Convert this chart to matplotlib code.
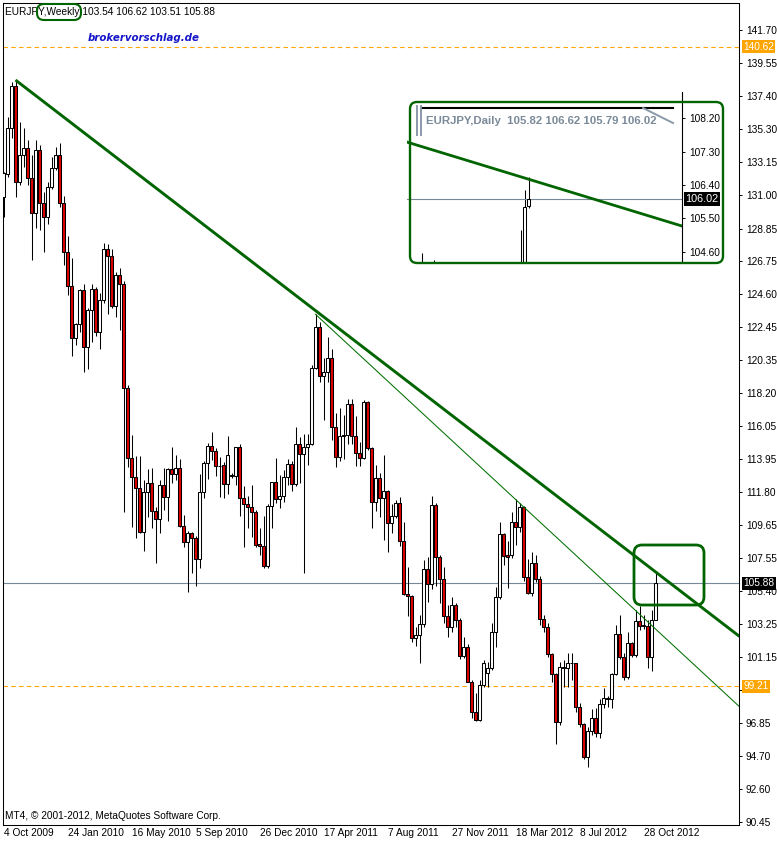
import numpy as np
import pandas as pd
import matplotlib
matplotlib.use("Agg")
import matplotlib.pyplot as plt
from matplotlib.patches import FancyBboxPatch
from matplotlib.lines import Line2D
from matplotlib.transforms import IdentityTransform

plt.rcParams['font.family'] = ['Liberation Sans', 'DejaVu Sans']

# ---------------- data (weekly EURJPY) ----------------
start_date = "2009-10-04"
opens = [130.91, 132.38, 135.34, 138.07, 131.88, 133.61, 134.04, 132.10, 129.88, 133.93,
         130.52, 129.58, 131.52, 132.75, 133.61, 130.52, 127.35, 125.15, 121.75, 122.65,
         124.87, 121.16, 123.58, 124.92, 122.18, 124.23, 127.50, 127.09, 123.86, 125.84,
         125.24, 118.55, 113.98, 112.79, 112.03, 109.23, 111.82, 112.36, 110.57, 110.03,
         112.25, 111.49, 113.26, 112.94, 113.33, 109.60, 108.58, 109.12, 108.80, 107.44,
         111.77, 113.65, 114.77, 114.47, 113.48, 113.52, 112.29, 112.85, 112.85, 114.69,
         111.39, 111.00, 110.80, 110.52, 108.41, 108.33, 107.03, 110.89, 112.42, 111.34,
         111.56, 112.74, 113.59, 112.29, 114.88, 114.23, 114.73, 114.90, 119.80, 122.45,
         119.30, 119.58, 120.45, 115.98, 114.08, 115.42, 115.48, 117.47, 115.42, 114.30,
         113.97, 117.60, 114.62, 111.13, 112.68, 111.39, 111.86, 109.77, 110.24, 111.11,
         108.65, 105.18, 105.07, 102.33, 102.55, 103.24, 106.80, 105.83, 110.96, 107.62,
         106.15, 103.80, 103.09, 104.49, 103.52, 101.21, 101.75, 99.53, 97.59, 97.05,
         99.31, 100.10, 100.39, 102.76, 104.98, 109.06, 107.72, 107.72, 109.88, 109.56,
         110.85, 106.28, 105.24, 107.18, 106.15, 103.56, 103.08, 101.31, 100.02, 96.94,
         100.45, 100.39, 100.71, 100.71, 97.86, 96.78, 94.63, 96.33, 97.15, 96.18,
         98.08, 98.40, 98.40, 100.02, 102.61, 101.10, 99.80, 102.00, 101.25, 103.45,
         103.13, 103.13, 101.10, 103.54]
highs = [132.53, 136.05, 138.36, 138.46, 135.77, 135.34, 134.58, 133.61, 134.58, 134.26,
         131.24, 131.88, 133.50, 134.15, 134.41, 130.96, 128.37, 126.92, 122.72, 124.92,
         125.26, 123.69, 125.26, 125.05, 124.66, 127.89, 127.83, 127.50, 126.06, 126.27,
         125.48, 118.70, 115.49, 114.13, 114.13, 112.57, 113.26, 113.33, 110.85, 112.57,
         113.33, 113.33, 114.69, 114.19, 113.91, 110.31, 109.27, 109.23, 108.95, 112.96,
         113.80, 114.99, 115.66, 114.62, 114.08, 113.76, 115.42, 113.00, 114.73, 114.90,
         112.18, 111.54, 112.25, 110.63, 109.45, 110.24, 111.02, 112.46, 113.97, 112.90,
         113.22, 113.91, 113.80, 116.02, 115.38, 115.53, 115.53, 120.01, 123.31, 122.77,
         120.45, 121.85, 121.03, 116.89, 117.25, 116.78, 117.81, 117.81, 116.71, 115.05,
         117.75, 117.68, 114.73, 113.54, 113.00, 114.19, 111.93, 111.02, 111.30, 111.50,
         109.88, 106.93, 105.10, 103.09, 103.84, 107.40, 107.62, 111.54, 111.11, 107.72,
         106.93, 104.49, 104.98, 104.60, 103.63, 102.44, 101.96, 99.60, 98.82, 99.64,
         100.93, 100.82, 103.30, 105.67, 109.88, 109.17, 108.63, 110.53, 111.33, 111.07,
         110.89, 107.44, 107.94, 107.72, 106.36, 103.84, 103.34, 101.40, 100.11, 100.82,
         100.93, 101.40, 101.40, 100.75, 98.17, 96.87, 96.61, 97.73, 97.80, 98.38,
         99.09, 98.60, 100.06, 103.19, 103.84, 101.36, 102.76, 102.11, 104.16, 104.42,
         103.84, 103.52, 104.16, 106.62]
lows = [129.62, 132.16, 134.73, 130.91, 131.67, 132.81, 131.67, 126.81, 128.91, 128.76,
        127.35, 129.14, 131.39, 132.64, 130.22, 126.49, 124.55, 120.62, 121.31, 122.18,
        119.59, 119.74, 121.53, 121.90, 121.03, 124.05, 123.32, 123.69, 123.10, 122.28,
        110.53, 113.44, 109.51, 108.80, 109.12, 108.00, 110.20, 109.49, 107.22, 109.12,
        110.63, 109.94, 112.36, 112.57, 109.55, 108.26, 105.35, 106.53, 105.74, 106.86,
        111.43, 112.62, 113.87, 112.83, 111.49, 111.43, 111.67, 112.70, 112.25, 110.24,
        108.26, 109.45, 108.91, 108.26, 107.72, 106.90, 106.86, 109.49, 111.06, 110.74,
        111.17, 112.25, 111.88, 112.20, 112.40, 106.53, 113.54, 114.84, 119.73, 118.94,
        116.45, 118.94, 115.16, 113.39, 113.80, 113.91, 114.90, 114.90, 113.48, 113.50,
        113.91, 114.51, 109.49, 110.59, 110.20, 108.69, 107.93, 109.12, 110.10, 108.31,
        105.10, 103.78, 102.12, 101.84, 100.71, 103.09, 104.70, 105.50, 105.72, 104.60,
        103.30, 102.44, 102.76, 103.09, 100.97, 101.04, 99.50, 97.20, 96.98, 96.98,
        99.20, 99.16, 100.28, 101.75, 104.90, 107.08, 105.57, 107.51, 108.37, 109.23,
        106.06, 105.18, 105.07, 106.00, 103.19, 102.76, 101.14, 99.52, 95.49, 96.72,
        99.20, 99.20, 99.63, 97.58, 96.61, 94.50, 94.02, 96.07, 95.97, 95.86,
        97.80, 97.90, 97.80, 99.96, 100.97, 99.63, 99.70, 101.14, 101.14, 102.87,
        102.90, 100.39, 100.24, 103.51]
closes = [132.42, 135.34, 138.07, 131.88, 133.61, 134.04, 132.10, 129.88, 133.93, 130.52,
          129.58, 131.52, 132.75, 133.61, 130.52, 127.35, 125.15, 121.75, 122.65, 124.87,
          121.16, 123.58, 124.92, 122.18, 124.23, 127.50, 127.09, 123.86, 125.84, 125.24,
          118.55, 113.98, 112.79, 112.03, 109.23, 111.82, 112.36, 110.57, 110.03, 112.25,
          111.49, 113.26, 112.94, 113.33, 109.60, 108.58, 109.12, 108.80, 107.44, 111.77,
          113.65, 114.77, 114.47, 113.48, 113.45, 112.29, 114.19, 112.90, 114.69, 111.39,
          111.00, 110.80, 110.52, 108.37, 108.33, 107.03, 110.89, 112.42, 111.34, 111.56,
          112.74, 113.59, 112.29, 114.88, 114.23, 114.73, 114.90, 119.80, 122.45, 119.30,
          119.58, 120.45, 115.98, 114.08, 115.42, 115.48, 117.47, 115.42, 114.30, 113.97,
          117.60, 114.62, 111.13, 112.68, 111.39, 111.86, 109.77, 110.24, 111.11, 108.65,
          105.18, 105.07, 102.33, 102.55, 103.24, 106.80, 105.83, 110.96, 107.62, 106.15,
          103.80, 103.09, 104.49, 103.52, 101.21, 101.75, 99.53, 97.59, 97.05, 99.31,
          100.71, 100.39, 102.76, 104.98, 109.06, 107.66, 107.62, 109.88, 109.56, 110.85,
          106.28, 105.24, 107.18, 106.15, 103.56, 103.08, 101.31, 100.02, 96.94, 100.45,
          100.40, 100.71, 100.70, 97.86, 96.78, 94.63, 96.33, 97.15, 96.18, 98.08,
          98.45, 98.45, 100.02, 102.61, 101.10, 99.80, 102.00, 101.25, 103.45, 103.13,
          103.20, 101.10, 103.52, 105.88]

y_ticks = [141.70, 139.55, 137.40, 135.30, 133.15, 131.00, 128.85, 126.75, 124.60, 122.45,
           120.35, 118.20, 116.05, 113.95, 111.80, 109.65, 107.55, 105.40, 103.25, 101.15,
           99.00, 96.85, 94.70, 92.60, 90.45]
hidden_tick_labels = [99.00]   # covered by the 99.21 level marker in the reference
date_label_step = 16

level_high = 140.62
level_low = 99.21
bid = 105.88

# trendlines: (bar index, price) anchors
trend_main = [(3, 138.46), (184, 102.45)]
trend_thin = [(78, 123.30), (184, 97.90)]

# daily inset data
inset_bars = [4, 7, 30, 31, 32]
inset_open = [104.20, 104.20, 104.10, 104.00, 105.82]
inset_high = [104.55, 104.38, 105.18, 106.26, 106.62]
inset_low = [103.90, 103.90, 103.80, 103.90, 105.79]
inset_close = [104.10, 104.10, 104.20, 105.80, 106.02]
inset_ticks = [108.20, 107.30, 106.40, 105.50, 104.60]
inset_bid = 106.02
inset_trend = [(0, 107.56), (72.4, 105.29)]

# ---------------- figure ----------------
W, H = 777, 842
fig = plt.figure(figsize=(W / 100, H / 100), dpi=100)
fig.patch.set_facecolor("white")

PX = IdentityTransform()


def P(x, y):
    return x, H - y


BEAR = "#e00000"
GREEN_D = "#006400"
ORANGE = "#ffa500"
BIDC = "#778899"
FS = 7.3

ax = fig.add_axes([2.5 / W, (H - 825) / H, (739 - 2.5) / W, (825 - 2.5) / H])
n = len(opens)
xi = np.arange(n)
o = np.array(opens); h = np.array(highs); l = np.array(lows); c = np.array(closes)
up = c >= o

ax.vlines(xi, l, h, color="black", lw=0.75, zorder=2)
bh = np.abs(c - o)
bb = np.minimum(o, c)
ax.bar(xi, bh, bottom=bb, width=0.72, color=np.where(up, "white", BEAR),
       edgecolor="black", linewidth=0.75, zorder=3)

ax.axhline(level_high, color=ORANGE, lw=0.8, dashes=(4, 3), zorder=1)
ax.axhline(level_low, color=ORANGE, lw=0.8, dashes=(4, 3), zorder=1)
ax.axhline(bid, color=BIDC, lw=0.8, zorder=1)

ax.plot([p[0] for p in trend_main], [p[1] for p in trend_main], color=GREEN_D, lw=2.1,
        zorder=4, solid_capstyle="butt")
ax.plot([p[0] for p in trend_thin], [p[1] for p in trend_thin], color="#007000", lw=0.75,
        zorder=4)

ax.set_xlim(-0.25, 183.875)
ax.set_ylim(90.244, 143.48)

ax.yaxis.tick_right()
ax.set_yticks(y_ticks)
ax.set_yticklabels(["" if v in hidden_tick_labels else f"{v:.2f}" for v in y_ticks])
ax.tick_params(axis="y", direction="out", length=2.5, width=0.7, pad=2.5, labelsize=FS)

dates = pd.date_range(start_date, periods=n, freq="7D")
lab_idx = list(range(0, n, date_label_step))
ax.set_xticks(lab_idx)
ax.set_xticklabels([f"{dates[i].day} {dates[i].strftime('%b %Y')}" for i in lab_idx],
                   ha="left")
ax.tick_params(axis="x", direction="out", length=0, pad=2.5, labelsize=FS)
for s in ax.spines.values():
    s.set_linewidth(0.75)
    s.set_color("black")

# price labels on the right axis
for val, bg in [(level_high, ORANGE), (bid, "black"), (level_low, ORANGE)]:
    ax.annotate(f"{val:.2f}", xy=(1, val), xycoords=("axes fraction", "data"),
                xytext=(3, 0), textcoords="offset points", ha="left", va="center",
                fontsize=FS, color="white", zorder=10, annotation_clip=False,
                bbox=dict(boxstyle="square,pad=0.12", fc=bg, ec="none"))

# texts
fig.text(*P(5, 12), "EURJPY,Weekly 103.54 106.62 103.51 105.88", transform=PX,
         fontsize=FS, va="center", ha="left")
fig.text(*P(88, 38), "brokervorschlag.de", transform=PX, fontsize=7.4,
         family="DejaVu Sans", weight="bold", style="italic", color="#1414c8",
         va="center", ha="left")
fig.text(*P(5, 816), "MT4, \u00a9 2001-2012, MetaQuotes Software Corp.", transform=PX,
         fontsize=FS, va="center", ha="left")


def rbox(x0, y0, x1, y1, r, lw, color="#006400"):
    patch = FancyBboxPatch((x0, H - y1), x1 - x0, y1 - y0,
                           boxstyle=f"round,pad=0,rounding_size={r}",
                           transform=PX, fill=False, ec=color, lw=lw, zorder=20)
    fig.add_artist(patch)


def pline(xs, ys, color, lw, **kw):
    fig.add_artist(Line2D(xs, [H - y for y in ys], transform=PX, color=color, lw=lw,
                          **kw))


# ---------------- inset (daily) ----------------
ix0, ix1, iy0, iy1 = 407, 682, 92, 262
iax = fig.add_axes([ix0 / W, (H - iy1) / H, (ix1 - ix0) / W, (iy1 - iy0) / H])
iax.set_facecolor("white")
iax.set_xlim(0, (ix1 - ix0) / 3.8)
iax.set_ylim(106.40 - (iy1 - 185) / 37.0, 106.40 + (185 - iy0) / 37.0)
io = np.array(inset_open); ih = np.array(inset_high); il = np.array(inset_low)
ic = np.array(inset_close)
iax.vlines(inset_bars, il, ih, color="black", lw=0.75)
iax.bar(inset_bars, np.abs(ic - io), bottom=np.minimum(io, ic), width=0.75,
        color=np.where(ic >= io, "white", BEAR), edgecolor="black", linewidth=0.75,
        zorder=3)
iax.axhline(inset_bid, color=BIDC, lw=0.8)
iax.plot([p[0] for p in inset_trend], [p[1] for p in inset_trend], color=GREEN_D,
         lw=2.0, zorder=4)
for k in ["left", "top", "bottom"]:
    iax.spines[k].set_visible(False)
iax.spines["right"].set_linewidth(0.8)
iax.yaxis.tick_right()
iax.set_yticks(inset_ticks)
iax.set_yticklabels([f"{v:.2f}" for v in inset_ticks])
iax.tick_params(axis="y", direction="out", length=2.5, width=0.7, pad=2.5, labelsize=FS)
iax.set_xticks([])
iax.annotate(f"{inset_bid:.2f}", xy=(1, inset_bid), xycoords=("axes fraction", "data"),
             xytext=(2.5, 0), textcoords="offset points", ha="left", va="center",
             fontsize=FS + 0.5, color="white", annotation_clip=False,
             bbox=dict(boxstyle="square,pad=0.15", fc="black", ec="none"))

# inset header decorations
pline([421, 673], [108, 108], "black", 1.5)
pline([417, 417], [106, 135], "#8a9aaa", 1.4)
pline([421, 421], [106, 135], "#8a9aaa", 1.4)
pline([643, 673], [108, 123], "#8a9aaa", 1.4)
fig.text(*P(426, 121), "EURJPY,Daily  105.82 106.62 105.79 106.02", transform=PX,
         fontsize=8.2, weight="bold", color="#7a8a99", va="center", ha="left")

# rounded highlight boxes
rbox(410, 102, 723, 263, 7, 1.7)
rbox(634, 545, 704, 605, 8, 2.0)
rbox(37, 4, 81, 20, 7, 1.5)

fig.savefig("out.png", dpi=100)
